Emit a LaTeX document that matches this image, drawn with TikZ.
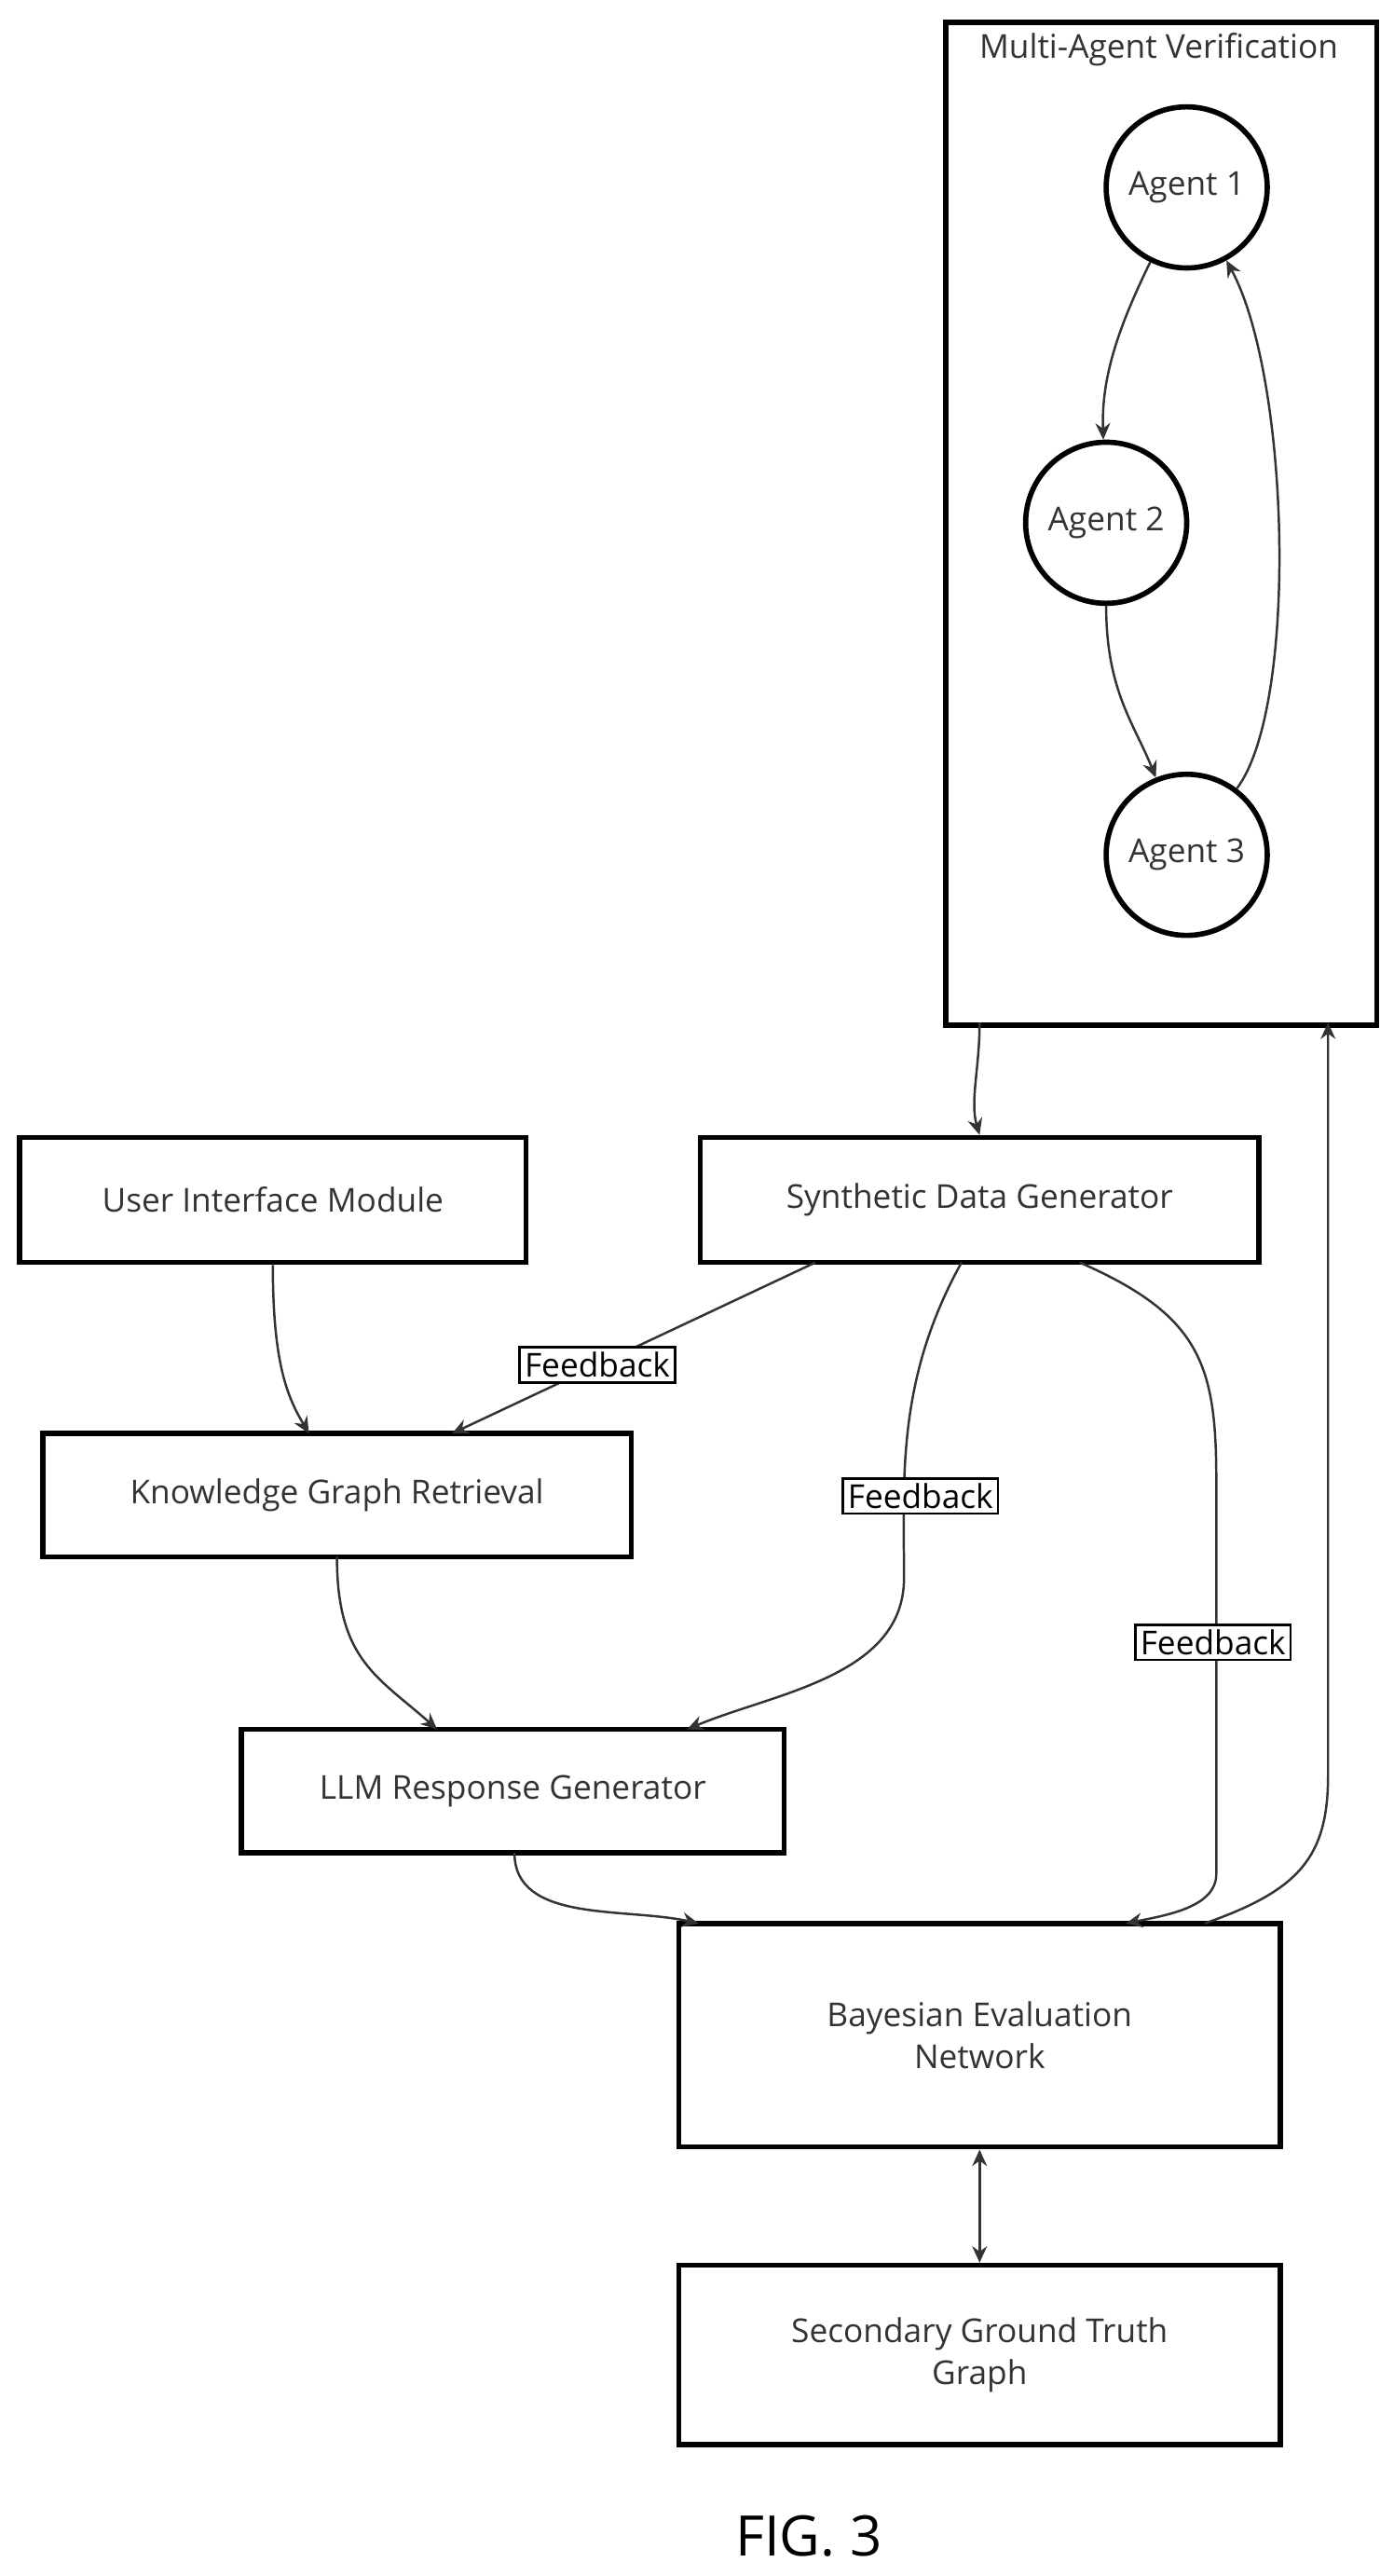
\documentclass[tikz,border=0pt]{standalone}
\usepackage{fontspec}
\setmainfont{Open Sans}
\usetikzlibrary{arrows.meta}
\begin{document}
\begin{tikzpicture}[x=0.5pt,y=-0.5pt,
  box/.style={draw=black,line width=1.6pt,minimum width=0pt,inner sep=0pt,font=\fontsize{10}{13}\selectfont,align=center,text=black!80},
  ag/.style={circle,draw=black,line width=1.6pt,minimum size=49pt,inner sep=0pt,font=\fontsize{10}{13}\selectfont,text=black!80},
  lbl/.style={draw=black,fill=white,line width=0.8pt,inner sep=1.5pt,font=\fontsize{10}{12}\selectfont},
  e/.style={draw=black!80,line width=0.7pt,-{Stealth[length=5pt,width=4.5pt]}}]
\useasboundingbox (0,0) rectangle (848,1567);
\node[draw=black,line width=1.6pt,minimum width=131pt,minimum height=305pt,anchor=north west,inner sep=0pt] (cl) at (574,12) {};
\node[font=\fontsize{10}{12}\selectfont,text=black!80] (clt) at (705,30) {Multi-Agent Verification};
\node[ag] (a1) at (722,114) {Agent 1};
\node[ag] (a2) at (673,318) {Agent 2};
\node[ag] (a3) at (722,520) {Agent 3};
\node[box,minimum width=170pt,minimum height=38pt] (sdg) at (596,730) {Synthetic Data Generator};
\node[box,minimum width=154pt,minimum height=38pt] (uim) at (166,730) {User Interface Module};
\node[box,minimum width=179pt,minimum height=37.5pt] (kgr) at (205,909.5) {Knowledge Graph Retrieval};
\node[box,minimum width=165pt,minimum height=37.5pt] (llm) at (312,1089.5) {LLM Response Generator};
\node[box,minimum width=183pt,minimum height=68pt] (ben) at (596,1238) {Bayesian Evaluation\\Network};
\node[box,minimum width=183pt,minimum height=54.5pt] (sgt) at (596,1432.5) {Secondary Ground Truth\\Graph};
\node[font=\fontsize{17}{20}\selectfont] (fig) at (492,1543) {FIG. 3};
\coordinate (c1) at (596,622); \coordinate (c2) at (808,622);
\draw[e] (a1) .. controls (680,200) and (670,230) .. (a2);
\draw[e] (a2) .. controls (673,420) and (690,440) .. (a3);
\draw[e] (a3) .. controls (790,430) and (785,230) .. (a1);
\draw[e] (c1) .. controls (596,650) and (590,670) .. (sdg.north);
\draw[e] (733,1170) .. controls (790,1150) and (808,1130) .. (808,1080) -- (c2);
\draw[e] (uim.south) .. controls (166,830) and (175,850) .. (188,872);
\draw[e] (496,768) -- (275,872) node[lbl,pos=0.6] (f1) {Feedback};
\draw[e] (585,768) .. controls (545,840) and (550,900) .. (550,960) .. controls (550,1020) and (470,1030) .. (418,1052);
\node[lbl] (f2) at (560,910) {Feedback};
\draw[e] (657,768) .. controls (730,800) and (740,830) .. (740,900) -- (740,1140) .. controls (740,1160) and (710,1165) .. (685,1170);
\node[lbl] (f3) at (738,999) {Feedback};
\draw[e] (205,947) .. controls (205,1010) and (230,1020) .. (266,1052);
\draw[e] (313,1127) .. controls (313,1170) and (380,1160) .. (425,1170);
\draw[e,{Stealth[length=5pt,width=4.5pt]}-{Stealth[length=5pt,width=4.5pt]}] (ben.south) -- (sgt.north);
\end{tikzpicture}
\end{document}
